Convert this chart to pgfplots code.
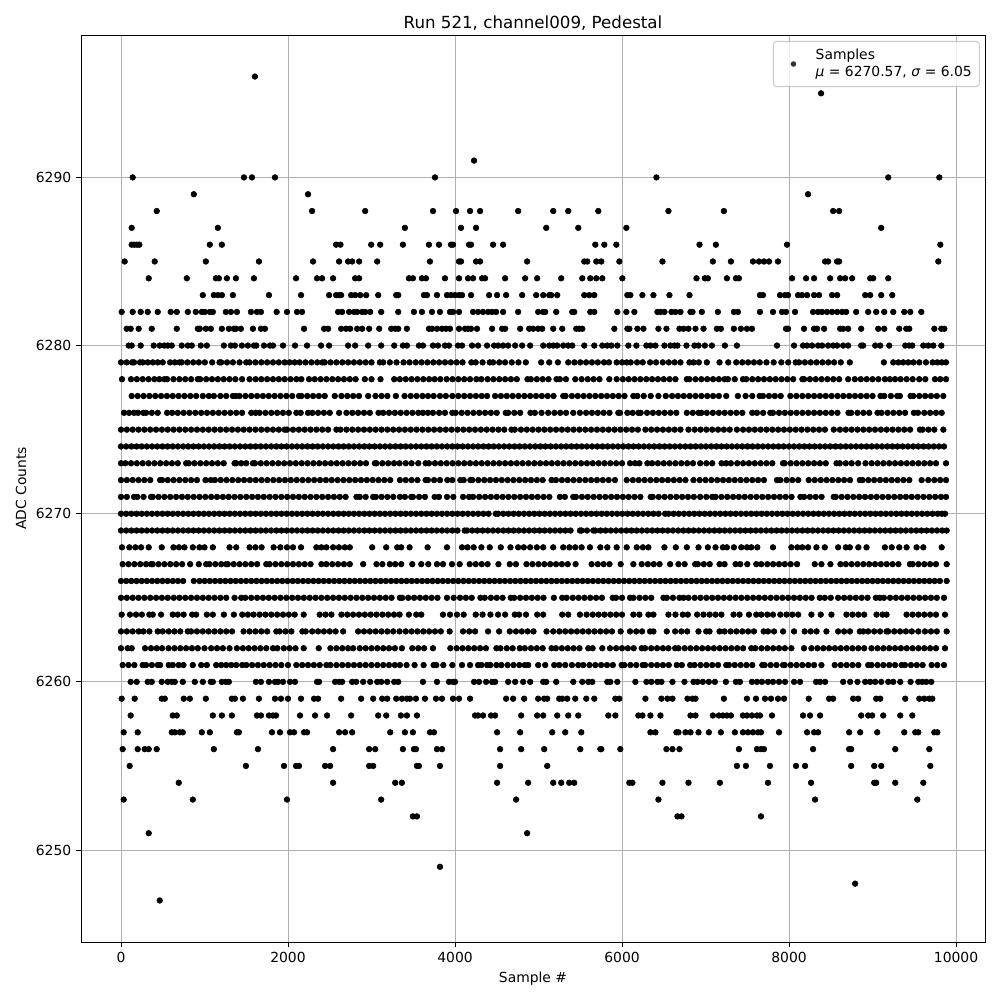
\documentclass[border=0pt]{standalone}
\usepackage{fontspec}
\setmainfont{DejaVu Sans}
\usepackage{pgfplots}
\pgfplotsset{compat=1.18}
\pgfplotstableread{
x y
1604 6296
8384 6295
4228 6291
140 6290
1472 6290
1568 6290
1844 6290
3760 6290
6412 6290
9188 6290
9800 6290
872 6289
2240 6289
8228 6289
428 6288
2288 6288
2924 6288
3736 6288
4012 6288
4180 6288
4300 6288
4756 6288
5176 6288
5356 6288
5716 6288
6556 6288
7220 6288
8528 6288
8600 6288
128 6287
1160 6287
3400 6287
4072 6287
4252 6287
5092 6287
5476 6287
6052 6287
9104 6287
128 6286
160 6286
192 6286
220 6286
1064 6286
1208 6286
2576 6286
2628 6286
2996 6286
3104 6286
3376 6286
3688 6286
3808 6286
3952 6286
3976 6286
4168 6286
4192 6286
4456 6286
4576 6286
5680 6286
5788 6286
5932 6286
6928 6286
7124 6286
7976 6286
9812 6286
44 6285
404 6285
1016 6285
1652 6285
2300 6285
2612 6285
2720 6285
2768 6285
2852 6285
3068 6285
3700 6285
4048 6285
4072 6285
4252 6285
4300 6285
4864 6285
5548 6285
5584 6285
5692 6285
5752 6285
5968 6285
6484 6285
7088 6285
7304 6285
7568 6285
7640 6285
7700 6285
7760 6285
7868 6285
8432 6285
8468 6285
8576 6285
8600 6285
9788 6285
332 6284
788 6284
1136 6284
1172 6284
1268 6284
1376 6284
1592 6284
2096 6284
2348 6284
2408 6284
2540 6284
2804 6284
2852 6284
3448 6284
3496 6284
3604 6284
3652 6284
3880 6284
4048 6284
4156 6284
4216 6284
4324 6284
4360 6284
4600 6284
4840 6284
4984 6284
5272 6284
5524 6284
5620 6284
5692 6284
5764 6284
6004 6284
6892 6284
6992 6284
7028 6284
7256 6284
7364 6284
7400 6284
8036 6284
8204 6284
8300 6284
8492 6284
8612 6284
8672 6284
8756 6284
8972 6284
9008 6284
9188 6284
980 6283
1112 6283
1160 6283
1208 6283
1340 6283
1772 6283
2156 6283
2492 6283
2576 6283
2612 6283
2636 6283
2756 6283
2804 6283
2864 6283
2936 6283
3080 6283
3296 6283
3320 6283
3628 6283
3664 6283
3784 6283
3904 6283
3952 6283
4000 6283
4048 6283
4084 6283
4192 6283
4408 6283
4504 6283
4612 6283
4804 6283
4972 6283
5056 6283
5128 6283
5152 6283
5224 6283
5548 6283
5608 6283
5668 6283
6064 6283
6100 6283
6244 6283
6376 6283
6568 6283
6808 6283
7652 6283
7688 6283
7892 6283
7952 6283
7988 6283
8108 6283
8156 6283
8216 6283
8300 6283
8360 6283
8516 6283
8576 6283
8912 6283
8972 6283
9104 6283
9236 6283
8 6282
140 6282
236 6282
320 6282
440 6282
596 6282
668 6282
800 6282
896 6282
968 6282
1004 6282
1064 6282
1100 6282
1256 6282
1316 6282
1388 6282
1556 6282
1628 6282
1676 6282
1864 6282
1988 6282
2108 6282
2168 6282
2600 6282
2648 6282
2732 6282
2792 6282
2828 6282
2888 6282
2924 6282
2984 6282
3116 6282
3320 6282
3508 6282
3604 6282
3724 6282
3820 6282
3940 6282
3976 6282
4048 6282
4216 6282
4276 6282
4336 6282
4396 6282
4444 6282
4492 6282
4576 6282
4756 6282
4996 6282
5056 6282
5080 6282
5212 6282
5404 6282
5428 6282
5620 6282
5668 6282
5944 6282
6052 6282
6148 6282
6424 6282
6460 6282
6508 6282
6592 6282
6640 6282
6700 6282
6820 6282
6844 6282
6956 6282
7148 6282
7340 6282
7388 6282
7652 6282
7808 6282
7916 6282
7964 6282
8072 6282
8288 6282
8348 6282
8396 6282
8456 6282
8516 6282
8576 6282
8636 6282
8684 6282
8804 6282
8948 6282
9044 6282
9140 6282
9248 6282
9380 6282
9452 6282
9584 6282
68 6281
116 6281
212 6281
368 6281
668 6281
920 6281
944 6281
1016 6281
1076 6281
1208 6281
1292 6281
1352 6281
1376 6281
1436 6281
1580 6281
1676 6281
1724 6281
2192 6281
2432 6281
2480 6281
2636 6281
2696 6281
2744 6281
2828 6281
2888 6281
2972 6281
3092 6281
3236 6281
3284 6281
3320 6281
3424 6281
3688 6281
3724 6281
3784 6281
3844 6281
3892 6281
3940 6281
4048 6281
4120 6281
4156 6281
4192 6281
4264 6281
4444 6281
4564 6281
4600 6281
4780 6281
4888 6281
4936 6281
4996 6281
5044 6281
5176 6281
5284 6281
5452 6281
5488 6281
5524 6281
5908 6281
6064 6281
6088 6281
6184 6281
6256 6281
6436 6281
6532 6281
6688 6281
6736 6281
6796 6281
6880 6281
6976 6281
7136 6281
7184 6281
7340 6281
7424 6281
7496 6281
7556 6281
7964 6281
7988 6281
8180 6281
8300 6281
8336 6281
8420 6281
8612 6281
8648 6281
8708 6281
8864 6281
9068 6281
9140 6281
9320 6281
9404 6281
9440 6281
9740 6281
9824 6281
9860 6281
92 6280
128 6280
236 6280
392 6280
464 6280
520 6280
560 6280
608 6280
728 6280
800 6280
848 6280
956 6280
1028 6280
1232 6280
1316 6280
1364 6280
1448 6280
1520 6280
1592 6280
1620 6280
1712 6280
1784 6280
1820 6280
1940 6280
2084 6280
2228 6280
2396 6280
2492 6280
2720 6280
2804 6280
2960 6280
3116 6280
3272 6280
3376 6280
3424 6280
3568 6280
3616 6280
3736 6280
3796 6280
3880 6280
3928 6280
4036 6280
4084 6280
4204 6280
4276 6280
4384 6280
4468 6280
4516 6280
4576 6280
4636 6280
4720 6280
4804 6280
4900 6280
5056 6280
5128 6280
5176 6280
5224 6280
5296 6280
5356 6280
5404 6280
5548 6280
5668 6280
5764 6280
5824 6280
5872 6280
5944 6280
6076 6280
6172 6280
6292 6280
6340 6280
6400 6280
6508 6280
6580 6280
6628 6280
6664 6280
6772 6280
6868 6280
6916 6280
6992 6280
7076 6280
7232 6280
7376 6280
7856 6280
8060 6280
8168 6280
8216 6280
8276 6280
8348 6280
8396 6280
8468 6280
8528 6280
8576 6280
8648 6280
8708 6280
8864 6280
8888 6280
9032 6280
9092 6280
9200 6280
9392 6280
9440 6280
9476 6280
9608 6280
9668 6280
9728 6280
9824 6280
}\sparsetop
\pgfplotstableread{
x y
116 6260
188 6260
320 6260
368 6260
488 6260
560 6260
608 6260
644 6260
740 6260
884 6260
980 6260
1076 6260
1100 6260
1208 6260
1256 6260
1292 6260
1616 6260
1676 6260
1772 6260
1844 6260
1880 6260
1940 6260
2024 6260
2084 6260
2348 6260
2372 6260
2564 6260
2612 6260
2648 6260
2768 6260
2816 6260
2900 6260
2984 6260
3068 6260
3116 6260
3188 6260
3272 6260
3320 6260
3616 6260
3784 6260
3928 6260
3976 6260
4000 6260
4228 6260
4288 6260
4372 6260
4444 6260
4480 6260
4636 6260
4720 6260
4816 6260
4900 6260
5056 6260
5092 6260
5212 6260
5416 6260
5524 6260
5596 6260
5644 6260
5824 6260
5860 6260
5944 6260
6160 6260
6292 6260
6352 6260
6424 6260
6472 6260
6604 6260
6748 6260
6856 6260
6904 6260
6968 6260
7040 6260
7112 6260
7244 6260
7364 6260
7412 6260
7556 6260
7616 6260
7676 6260
7748 6260
7808 6260
7880 6260
7952 6260
8060 6260
8132 6260
8324 6260
8372 6260
8432 6260
8648 6260
8732 6260
8820 6260
8912 6260
8972 6260
9032 6260
9104 6260
9188 6260
9248 6260
9332 6260
9456 6260
9548 6260
9596 6260
9644 6260
9704 6260
8 6259
164 6259
488 6259
524 6259
752 6259
824 6259
1016 6259
1328 6259
1364 6259
1460 6259
1652 6259
1844 6259
1916 6259
2000 6259
2156 6259
2312 6259
2360 6259
2636 6259
2876 6259
3020 6259
3128 6259
3188 6259
3296 6259
3364 6259
3424 6259
3460 6259
3532 6259
3640 6259
3772 6259
3844 6259
3976 6259
4048 6259
4180 6259
4612 6259
4696 6259
4828 6259
4996 6259
5068 6259
5104 6259
5248 6259
5284 6259
5344 6259
5440 6259
5572 6259
5668 6259
5920 6259
5968 6259
6280 6259
6472 6259
6544 6259
6604 6259
6784 6259
6844 6259
6880 6259
7220 6259
7496 6259
7604 6259
7712 6259
7784 6259
7868 6259
7940 6259
8236 6259
8480 6259
8528 6259
8768 6259
8828 6259
9044 6259
9092 6259
9392 6259
9560 6259
9620 6259
9680 6259
9716 6259
116 6258
620 6258
668 6258
1100 6258
1208 6258
1328 6258
1628 6258
1676 6258
1772 6258
1820 6258
1856 6258
2144 6258
2324 6258
2468 6258
2756 6258
3080 6258
3176 6258
3352 6258
3424 6258
3544 6258
4240 6258
4276 6258
4336 6258
4432 6258
4480 6258
4792 6258
4984 6258
5056 6258
5224 6258
5356 6258
5476 6258
5836 6258
5920 6258
6196 6258
6244 6258
6340 6258
6460 6258
6820 6258
6880 6258
7088 6258
7160 6258
7208 6258
7256 6258
7304 6258
7448 6258
7496 6258
7556 6258
7616 6258
7652 6258
7796 6258
8168 6258
8252 6258
8372 6258
8864 6258
8948 6258
8996 6258
9128 6258
9332 6258
9476 6258
32 6257
200 6257
608 6257
644 6257
704 6257
740 6257
968 6257
1064 6257
1388 6257
1412 6257
1808 6257
1904 6257
2024 6257
2072 6257
2192 6257
2228 6257
2612 6257
2684 6257
2768 6257
3224 6257
3400 6257
3496 6257
3700 6257
3748 6257
4504 6257
4780 6257
5164 6257
5320 6257
5512 6257
6340 6257
6400 6257
6652 6257
6676 6257
6760 6257
6820 6257
6916 6257
7040 6257
7184 6257
7352 6257
7448 6257
7508 6257
7568 6257
7628 6257
7664 6257
7880 6257
8216 6257
8300 6257
8348 6257
8720 6257
8852 6257
9056 6257
9380 6257
9512 6257
9548 6257
9740 6257
9776 6257
20 6256
200 6256
284 6256
332 6256
428 6256
1112 6256
1640 6256
2540 6256
2972 6256
3044 6256
3376 6256
3508 6256
3532 6256
3784 6256
3844 6256
4540 6256
4792 6256
5068 6256
5500 6256
5740 6256
5752 6256
5980 6256
6532 6256
6604 6256
6688 6256
7400 6256
7616 6256
7664 6256
7700 6256
8288 6256
8720 6256
8744 6256
9272 6256
9680 6256
104 6255
1496 6255
1952 6255
2096 6255
2132 6255
2444 6255
2504 6255
2972 6255
3020 6255
3544 6255
3568 6255
3820 6255
4540 6255
5104 6255
7376 6255
7484 6255
7772 6255
8084 6255
8192 6255
8744 6255
9020 6255
9104 6255
9692 6255
692 6254
2540 6254
3284 6254
3364 6254
4504 6254
4876 6254
5176 6254
5272 6254
5368 6254
5428 6254
6088 6254
6124 6254
6484 6254
6796 6254
7172 6254
7748 6254
8264 6254
9020 6254
9044 6254
9272 6254
9608 6254
32 6253
860 6253
1988 6253
3116 6253
4732 6253
6436 6253
8312 6253
9536 6253
3496 6252
3544 6252
6664 6252
6712 6252
7664 6252
332 6251
4864 6251
3820 6249
8792 6248
464 6247
}\sparsebot
\pgfplotstableread{
x y
0 6279
68 6279
132 6279
156 6279
228 6279
260 6279
320 6279
380 6279
440 6279
500 6279
588 6279
644 6279
700 6279
728 6279
796 6279
864 6279
932 6279
1004 6279
1092 6279
1180 6279
1200 6279
1270 6279
1340 6279
1420 6279
1500 6279
1540 6279
1610 6279
1680 6279
1750 6279
1820 6279
1890 6279
1960 6279
2020 6279
2080 6279
2140 6279
2210 6279
2280 6279
2350 6279
2412 6279
2440 6279
2510 6279
2580 6279
2650 6279
2720 6279
2790 6279
2860 6279
2930 6279
3000 6279
3100 6279
3140 6279
3220 6279
3300 6279
3384 6279
3456 6279
3530 6279
3600 6279
3670 6279
3740 6279
3810 6279
3880 6279
3950 6279
4020 6279
4090 6279
4196 6279
4248 6279
4330 6279
4416 6279
4456 6279
4530 6279
4600 6279
4680 6279
4760 6279
4848 6279
5032 6279
5128 6279
5232 6279
5356 6279
5430 6279
5500 6279
5570 6279
5640 6279
5710 6279
5784 6279
5844 6279
5936 6279
6000 6279
6056 6279
6104 6279
6180 6279
6248 6279
6336 6279
6408 6279
6488 6279
6560 6279
6630 6279
6700 6279
6808 6279
6856 6279
6920 6279
7016 6279
7168 6279
7272 6279
7368 6279
7440 6279
7510 6279
7580 6279
7650 6279
7730 6279
7816 6279
7908 6279
7990 6279
8080 6279
8120 6279
8190 6279
8260 6279
8330 6279
8400 6279
8470 6279
8540 6279
8620 6279
8728 6279
9136 6279
9248 6279
9310 6279
9368 6279
9428 6279
9490 6279
9560 6279
9640 6279
9720 6279
9776 6279
9830 6279
9880 6279
12 6278
120 6278
190 6278
260 6278
330 6278
400 6278
460 6278
520 6278
552 6278
628 6278
700 6278
770 6278
840 6278
920 6278
948 6278
1020 6278
1090 6278
1160 6278
1230 6278
1300 6278
1370 6278
1450 6278
1540 6278
1612 6278
1680 6278
1750 6278
1820 6278
1890 6278
1960 6278
2030 6278
2100 6278
2160 6278
2252 6278
2320 6278
2390 6278
2460 6278
2530 6278
2600 6278
2670 6278
2740 6278
2810 6278
2920 6278
3000 6278
3108 6278
3272 6278
3340 6278
3410 6278
3480 6278
3550 6278
3620 6278
3690 6278
3756 6278
3824 6278
3900 6278
3970 6278
4040 6278
4110 6278
4180 6278
4256 6278
4316 6278
4390 6278
4460 6278
4530 6278
4600 6278
4670 6278
4740 6278
4868 6278
4908 6278
4980 6278
5050 6278
5120 6278
5216 6278
5256 6278
5328 6278
5440 6278
5516 6278
5590 6278
5660 6278
5730 6278
5848 6278
5936 6278
6010 6278
6080 6278
6150 6278
6220 6278
6290 6278
6360 6278
6430 6278
6500 6278
6570 6278
6640 6278
6776 6278
6808 6278
6880 6278
6950 6278
7020 6278
7090 6278
7160 6278
7228 6278
7268 6278
7350 6278
7448 6278
7488 6278
7560 6278
7630 6278
7700 6278
7770 6278
7840 6278
7910 6278
7980 6278
8050 6278
8160 6278
8180 6278
8250 6278
8320 6278
8390 6278
8460 6278
8530 6278
8600 6278
8708 6278
8788 6278
8860 6278
8930 6278
9000 6278
9070 6278
9148 6278
9208 6278
9270 6278
9336 6278
9408 6278
9480 6278
9560 6278
9632 6278
9748 6278
9810 6278
9880 6278
128 6277
200 6277
270 6277
340 6277
410 6277
480 6277
550 6277
620 6277
690 6277
760 6277
830 6277
900 6277
980 6277
1052 6277
1112 6277
1190 6277
1260 6277
1340 6277
1376 6277
1420 6277
1490 6277
1560 6277
1630 6277
1700 6277
1770 6277
1840 6277
1910 6277
1980 6277
2050 6277
2132 6277
2160 6277
2230 6277
2300 6277
2370 6277
2440 6277
2560 6277
2640 6277
2710 6277
2780 6277
2850 6277
2960 6277
3048 6277
3120 6277
3190 6277
3292 6277
3396 6277
3470 6277
3540 6277
3610 6277
3676 6277
3744 6277
3820 6277
3890 6277
3968 6277
4040 6277
4110 6277
4180 6277
4250 6277
4320 6277
4384 6277
4480 6277
4550 6277
4620 6277
4690 6277
4760 6277
4830 6277
4900 6277
4970 6277
5040 6277
5110 6277
5180 6277
5296 6277
5324 6277
5400 6277
5470 6277
5540 6277
5610 6277
5680 6277
5750 6277
5820 6277
5890 6277
5960 6277
6030 6277
6136 6277
6184 6277
6260 6277
6344 6277
6436 6277
6524 6277
6600 6277
6670 6277
6740 6277
6810 6277
6880 6277
6950 6277
7020 6277
7090 6277
7160 6277
7248 6277
7388 6277
7480 6277
7560 6277
7648 6277
7688 6277
7760 6277
7830 6277
7900 6277
8016 6277
8088 6277
8160 6277
8230 6277
8300 6277
8370 6277
8440 6277
8510 6277
8580 6277
8650 6277
8720 6277
8790 6277
8860 6277
8930 6277
9000 6277
9096 6277
9140 6277
9220 6277
9296 6277
9328 6277
9456 6277
9488 6277
9560 6277
9630 6277
9700 6277
9770 6277
9848 6277
36 6276
96 6276
156 6276
204 6276
268 6276
300 6276
370 6276
440 6276
552 6276
612 6276
680 6276
750 6276
820 6276
890 6276
960 6276
1030 6276
1100 6276
1170 6276
1240 6276
1310 6276
1380 6276
1450 6276
1560 6276
1612 6276
1660 6276
1730 6276
1800 6276
1870 6276
1940 6276
2010 6276
2100 6276
2152 6276
2240 6276
2292 6276
2360 6276
2430 6276
2500 6276
2612 6276
2700 6276
2770 6276
2840 6276
2910 6276
2980 6276
3084 6276
3140 6276
3210 6276
3280 6276
3350 6276
3420 6276
3490 6276
3560 6276
3616 6276
3676 6276
3736 6276
3810 6276
3880 6276
3968 6276
4008 6276
4080 6276
4150 6276
4220 6276
4290 6276
4360 6276
4430 6276
4500 6276
4608 6276
4636 6276
4710 6276
4780 6276
4904 6276
4956 6276
5036 6276
5116 6276
5190 6276
5260 6276
5330 6276
5416 6276
5496 6276
5570 6276
5640 6276
5710 6276
5780 6276
5850 6276
5956 6276
5976 6276
6064 6276
6128 6276
6196 6276
6224 6276
6300 6276
6370 6276
6440 6276
6510 6276
6580 6276
6650 6276
6776 6276
6848 6276
6916 6276
6950 6276
7016 6276
7088 6276
7160 6276
7230 6276
7300 6276
7370 6276
7440 6276
7560 6276
7616 6276
7690 6276
7776 6276
7808 6276
7880 6276
7950 6276
8020 6276
8090 6276
8160 6276
8230 6276
8300 6276
8370 6276
8440 6276
8510 6276
8580 6276
8712 6276
8744 6276
8820 6276
8890 6276
8960 6276
9060 6276
9108 6276
9180 6276
9250 6276
9320 6276
9390 6276
9496 6276
9544 6276
9620 6276
9690 6276
9760 6276
9828 6276
0 6275
70 6275
140 6275
210 6275
280 6275
350 6275
420 6275
490 6275
560 6275
630 6275
700 6275
770 6275
840 6275
910 6275
980 6275
1050 6275
1120 6275
1190 6275
1260 6275
1330 6275
1400 6275
1470 6275
1540 6275
1610 6275
1680 6275
1750 6275
1820 6275
1890 6275
1960 6275
1988 6275
2060 6275
2130 6275
2200 6275
2270 6275
2340 6275
2410 6275
2480 6275
2580 6275
2628 6275
2700 6275
2770 6275
2840 6275
2910 6275
2980 6275
3050 6275
3120 6275
3190 6275
3260 6275
3330 6275
3400 6275
3470 6275
3540 6275
3610 6275
3680 6275
3750 6275
3820 6275
3890 6275
3960 6275
4030 6275
4100 6275
4170 6275
4240 6275
4310 6275
4380 6275
4450 6275
4520 6275
4590 6275
4676 6275
4716 6275
4790 6275
4860 6275
4930 6275
5000 6275
5070 6275
5140 6275
5210 6275
5280 6275
5350 6275
5420 6275
5490 6275
5560 6275
5630 6275
5700 6275
5770 6275
5840 6275
5910 6275
5980 6275
6050 6275
6120 6275
6190 6275
6280 6275
6350 6275
6420 6275
6490 6275
6560 6275
6630 6275
6700 6275
6796 6275
6870 6275
6940 6275
7010 6275
7080 6275
7150 6275
7220 6275
7290 6275
7376 6275
7450 6275
7520 6275
7590 6275
7660 6275
7730 6275
7800 6275
7870 6275
7940 6275
8010 6275
8080 6275
8150 6275
8220 6275
8290 6275
8360 6275
8430 6275
8536 6275
8610 6275
8680 6275
8750 6275
8820 6275
8890 6275
8960 6275
9030 6275
9100 6275
9170 6275
9240 6275
9310 6275
9380 6275
9450 6275
9568 6275
9600 6275
9670 6275
9740 6275
9848 6275
}\denseA
\pgfplotstableread{
x y
0 6274
62 6274
124 6274
186 6274
248 6274
310 6274
372 6274
434 6274
496 6274
558 6274
620 6274
682 6274
744 6274
806 6274
868 6274
930 6274
992 6274
1054 6274
1116 6274
1178 6274
1240 6274
1302 6274
1364 6274
1426 6274
1488 6274
1550 6274
1612 6274
1674 6274
1736 6274
1798 6274
1860 6274
1922 6274
1984 6274
2046 6274
2108 6274
2170 6274
2232 6274
2294 6274
2356 6274
2418 6274
2480 6274
2542 6274
2604 6274
2666 6274
2728 6274
2790 6274
2852 6274
2914 6274
2976 6274
3038 6274
3100 6274
3162 6274
3224 6274
3286 6274
3348 6274
3410 6274
3472 6274
3534 6274
3596 6274
3658 6274
3720 6274
3782 6274
3844 6274
3906 6274
3968 6274
4030 6274
4092 6274
4154 6274
4216 6274
4278 6274
4340 6274
4402 6274
4464 6274
4526 6274
4588 6274
4650 6274
4712 6274
4774 6274
4836 6274
4898 6274
4960 6274
5022 6274
5084 6274
5146 6274
5208 6274
5270 6274
5332 6274
5394 6274
5456 6274
5518 6274
5580 6274
5642 6274
5704 6274
5766 6274
5828 6274
5890 6274
5952 6274
6014 6274
6076 6274
6138 6274
6200 6274
6262 6274
6324 6274
6386 6274
6448 6274
6510 6274
6572 6274
6634 6274
6696 6274
6758 6274
6820 6274
6882 6274
6944 6274
7006 6274
7068 6274
7130 6274
7192 6274
7254 6274
7316 6274
7378 6274
7440 6274
7502 6274
7564 6274
7626 6274
7688 6274
7750 6274
7812 6274
7874 6274
7936 6274
7998 6274
8060 6274
8122 6274
8184 6274
8246 6274
8308 6274
8370 6274
8432 6274
8494 6274
8556 6274
8618 6274
8680 6274
8742 6274
8804 6274
8866 6274
8928 6274
8990 6274
9052 6274
9114 6274
9176 6274
9238 6274
9300 6274
9362 6274
9424 6274
9486 6274
9548 6274
9610 6274
9672 6274
9734 6274
9796 6274
9856 6274
0 6273
52 6273
120 6273
190 6273
260 6273
330 6273
400 6273
470 6273
540 6273
610 6273
680 6273
780 6273
812 6273
880 6273
950 6273
1020 6273
1090 6273
1160 6273
1230 6273
1360 6273
1380 6273
1440 6273
1500 6273
1580 6273
1604 6273
1674 6273
1744 6273
1814 6273
1884 6273
1954 6273
2024 6273
2094 6273
2164 6273
2234 6273
2304 6273
2374 6273
2444 6273
2514 6273
2584 6273
2654 6273
2724 6273
2794 6273
2864 6273
2934 6273
3040 6273
3060 6273
3130 6273
3200 6273
3270 6273
3336 6273
3410 6273
3480 6273
3560 6273
3648 6273
3688 6273
3760 6273
3830 6273
3900 6273
3970 6273
4040 6273
4110 6273
4180 6273
4250 6273
4320 6273
4390 6273
4460 6273
4530 6273
4600 6273
4670 6273
4740 6273
4810 6273
4880 6273
4950 6273
5020 6273
5090 6273
5160 6273
5230 6273
5300 6273
5370 6273
5440 6273
5510 6273
5580 6273
5650 6273
5720 6273
5790 6273
5860 6273
5930 6273
6000 6273
6096 6273
6156 6273
6208 6273
6304 6273
6360 6273
6430 6273
6500 6273
6570 6273
6640 6273
6710 6273
6780 6273
6850 6273
6936 6273
7010 6273
7080 6273
7192 6273
7248 6273
7304 6273
7380 6273
7450 6273
7520 6273
7590 6273
7660 6273
7730 6273
7800 6273
7928 6273
7948 6273
8020 6273
8090 6273
8160 6273
8230 6273
8300 6273
8370 6273
8440 6273
8568 6273
8608 6273
8680 6273
8750 6273
8828 6273
8916 6273
8990 6273
9060 6273
9130 6273
9200 6273
9270 6273
9340 6273
9410 6273
9480 6273
9550 6273
9620 6273
9690 6273
9760 6273
9880 6273
0 6272
70 6272
140 6272
210 6272
280 6272
350 6272
468 6272
492 6272
560 6272
630 6272
700 6272
770 6272
840 6272
910 6272
1012 6272
1076 6272
1124 6272
1194 6272
1264 6272
1334 6272
1404 6272
1474 6272
1544 6272
1614 6272
1684 6272
1754 6272
1824 6272
1894 6272
1964 6272
2034 6272
2104 6272
2174 6272
2244 6272
2314 6272
2384 6272
2454 6272
2524 6272
2594 6272
2664 6272
2734 6272
2804 6272
2874 6272
2944 6272
3014 6272
3084 6272
3154 6272
3224 6272
3340 6272
3410 6272
3480 6272
3550 6272
3648 6272
3676 6272
3750 6272
3820 6272
3908 6272
3968 6272
4064 6272
4104 6272
4184 6272
4208 6272
4280 6272
4350 6272
4420 6272
4490 6272
4560 6272
4630 6272
4700 6272
4770 6272
4840 6272
4910 6272
4980 6272
5050 6272
5156 6272
5208 6272
5280 6272
5350 6272
5420 6272
5490 6272
5560 6272
5630 6272
5700 6272
5770 6272
5840 6272
5916 6272
6056 6272
6130 6272
6200 6272
6270 6272
6340 6272
6410 6272
6480 6272
6550 6272
6620 6272
6690 6272
6760 6272
6856 6272
6930 6272
7000 6272
7070 6272
7140 6272
7210 6272
7280 6272
7350 6272
7420 6272
7490 6272
7560 6272
7630 6272
7700 6272
7856 6272
7896 6272
7970 6272
8040 6272
8110 6272
8236 6272
8308 6272
8380 6272
8450 6272
8520 6272
8590 6272
8660 6272
8730 6272
8848 6272
8880 6272
8950 6272
9020 6272
9090 6272
9160 6272
9230 6272
9300 6272
9370 6272
9440 6272
9588 6272
9668 6272
9740 6272
9810 6272
9880 6272
0 6271
70 6271
156 6271
196 6271
270 6271
360 6271
380 6271
450 6271
520 6271
590 6271
660 6271
730 6271
800 6271
870 6271
940 6271
1010 6271
1080 6271
1150 6271
1220 6271
1290 6271
1360 6271
1430 6271
1500 6271
1570 6271
1640 6271
1710 6271
1780 6271
1850 6271
1920 6271
1990 6271
2060 6271
2130 6271
2200 6271
2270 6271
2340 6271
2410 6271
2480 6271
2550 6271
2620 6271
2690 6271
2820 6271
2860 6271
2930 6271
3020 6271
3052 6271
3120 6271
3190 6271
3260 6271
3340 6271
3400 6271
3476 6271
3496 6271
3570 6271
3640 6271
3756 6271
3808 6271
3904 6271
3980 6271
4096 6271
4168 6271
4216 6271
4290 6271
4360 6271
4430 6271
4500 6271
4570 6271
4640 6271
4710 6271
4780 6271
4850 6271
4920 6271
4990 6271
5060 6271
5130 6271
5256 6271
5316 6271
5416 6271
5448 6271
5520 6271
5590 6271
5660 6271
5730 6271
5800 6271
5870 6271
5940 6271
6010 6271
6080 6271
6150 6271
6220 6271
6344 6271
6368 6271
6440 6271
6510 6271
6580 6271
6650 6271
6720 6271
6790 6271
6860 6271
6936 6271
7010 6271
7080 6271
7120 6271
7190 6271
7260 6271
7330 6271
7400 6271
7470 6271
7540 6271
7610 6271
7680 6271
7750 6271
7820 6271
7890 6271
7960 6271
8030 6271
8136 6271
8180 6271
8250 6271
8320 6271
8390 6271
8536 6271
8560 6271
8630 6271
8700 6271
8770 6271
8840 6271
8910 6271
8980 6271
9050 6271
9120 6271
9190 6271
9260 6271
9330 6271
9400 6271
9470 6271
9540 6271
9610 6271
9680 6271
9750 6271
9820 6271
9880 6271
}\denseB
\pgfplotstableread{
x y
0 6270
62 6270
124 6270
186 6270
248 6270
310 6270
372 6270
434 6270
496 6270
558 6270
620 6270
682 6270
744 6270
806 6270
868 6270
930 6270
992 6270
1054 6270
1116 6270
1178 6270
1240 6270
1302 6270
1364 6270
1426 6270
1488 6270
1550 6270
1612 6270
1674 6270
1736 6270
1798 6270
1860 6270
1922 6270
1984 6270
2046 6270
2108 6270
2170 6270
2232 6270
2294 6270
2356 6270
2418 6270
2480 6270
2542 6270
2604 6270
2666 6270
2728 6270
2790 6270
2852 6270
2914 6270
2976 6270
3038 6270
3100 6270
3162 6270
3224 6270
3286 6270
3348 6270
3410 6270
3472 6270
3534 6270
3596 6270
3658 6270
3720 6270
3782 6270
3844 6270
3906 6270
3968 6270
4030 6270
4092 6270
4154 6270
4216 6270
4278 6270
4340 6270
4402 6270
4488 6270
4516 6270
4578 6270
4640 6270
4702 6270
4764 6270
4826 6270
4888 6270
4950 6270
5012 6270
5074 6270
5136 6270
5198 6270
5260 6270
5322 6270
5384 6270
5446 6270
5508 6270
5570 6270
5632 6270
5694 6270
5756 6270
5818 6270
5880 6270
5942 6270
6004 6270
6066 6270
6128 6270
6190 6270
6252 6270
6314 6270
6376 6270
6438 6270
6516 6270
6556 6270
6618 6270
6680 6270
6742 6270
6804 6270
6866 6270
6928 6270
6990 6270
7052 6270
7114 6270
7176 6270
7238 6270
7300 6270
7362 6270
7424 6270
7486 6270
7548 6270
7610 6270
7672 6270
7734 6270
7796 6270
7858 6270
7920 6270
7982 6270
8044 6270
8106 6270
8168 6270
8230 6270
8292 6270
8354 6270
8416 6270
8478 6270
8540 6270
8602 6270
8664 6270
8726 6270
8788 6270
8850 6270
8912 6270
8974 6270
9036 6270
9098 6270
9160 6270
9222 6270
9284 6270
9346 6270
9408 6270
9470 6270
9532 6270
9594 6270
9656 6270
9718 6270
9780 6270
9830 6270
9868 6270
0 6269
62 6269
124 6269
186 6269
248 6269
310 6269
372 6269
434 6269
496 6269
558 6269
620 6269
682 6269
744 6269
806 6269
868 6269
930 6269
992 6269
1054 6269
1116 6269
1178 6269
1240 6269
1302 6269
1364 6269
1426 6269
1488 6269
1550 6269
1612 6269
1674 6269
1736 6269
1798 6269
1860 6269
1922 6269
1984 6269
2046 6269
2108 6269
2170 6269
2232 6269
2294 6269
2356 6269
2418 6269
2480 6269
2542 6269
2604 6269
2666 6269
2728 6269
2790 6269
2852 6269
2914 6269
2976 6269
3038 6269
3100 6269
3162 6269
3224 6269
3286 6269
3348 6269
3410 6269
3472 6269
3534 6269
3596 6269
3658 6269
3720 6269
3782 6269
3844 6269
3906 6269
3968 6269
4030 6269
4116 6269
4144 6269
4206 6269
4268 6269
4330 6269
4392 6269
4454 6269
4516 6269
4578 6269
4640 6269
4702 6269
4764 6269
4826 6269
4888 6269
4950 6269
5012 6269
5074 6269
5136 6269
5198 6269
5260 6269
5322 6269
5384 6269
5496 6269
5516 6269
5580 6269
5656 6269
5680 6269
5742 6269
5804 6269
5866 6269
5928 6269
5990 6269
6052 6269
6114 6269
6176 6269
6238 6269
6300 6269
6362 6269
6424 6269
6486 6269
6548 6269
6610 6269
6672 6269
6734 6269
6796 6269
6858 6269
6920 6269
6982 6269
7044 6269
7106 6269
7168 6269
7230 6269
7292 6269
7354 6269
7416 6269
7478 6269
7540 6269
7602 6269
7664 6269
7726 6269
7788 6269
7850 6269
7912 6269
7974 6269
8036 6269
8098 6269
8160 6269
8222 6269
8284 6269
8346 6269
8408 6269
8470 6269
8532 6269
8594 6269
8656 6269
8718 6269
8780 6269
8842 6269
8904 6269
8966 6269
9028 6269
9090 6269
9152 6269
9214 6269
9276 6269
9338 6269
9400 6269
9462 6269
9524 6269
9586 6269
9648 6269
9710 6269
9772 6269
9834 6269
9888 6269
12 6268
100 6268
172 6268
240 6268
332 6268
488 6268
628 6268
694 6268
760 6268
860 6268
940 6268
1000 6268
1100 6268
1300 6268
1380 6268
1540 6268
1610 6268
1684 6268
1828 6268
1908 6268
1988 6268
2060 6268
2156 6268
2340 6268
2400 6268
2460 6268
2540 6268
2610 6268
2680 6268
2740 6268
3008 6268
3176 6268
3308 6268
3356 6268
3456 6268
3672 6268
3904 6268
4084 6268
4150 6268
4224 6268
4316 6268
4416 6268
4548 6268
4664 6268
4756 6268
4824 6268
4900 6268
4980 6268
5056 6268
5176 6268
5296 6268
5370 6268
5440 6268
5516 6268
5616 6268
5740 6268
5824 6268
5936 6268
6056 6268
6176 6268
6250 6268
6316 6268
6508 6268
6644 6268
6776 6268
6916 6268
7028 6268
7120 6268
7208 6268
7256 6268
7340 6268
7428 6268
7496 6268
7548 6268
7620 6268
7808 6268
8028 6268
8100 6268
8160 6268
8228 6268
8328 6268
8428 6268
8588 6268
8680 6268
8728 6268
8830 6268
8928 6268
9148 6268
9230 6268
9320 6268
9408 6268
9528 6268
9608 6268
9828 6268
20 6267
90 6267
160 6267
230 6267
300 6267
360 6267
380 6267
450 6267
520 6267
590 6267
660 6267
732 6267
828 6267
932 6267
1020 6267
1060 6267
1130 6267
1200 6267
1260 6267
1280 6267
1350 6267
1420 6267
1490 6267
1560 6267
1630 6267
1740 6267
1780 6267
1850 6267
1920 6267
1990 6267
2060 6267
2130 6267
2200 6267
2270 6267
2400 6267
2460 6267
2530 6267
2600 6267
2670 6267
2740 6267
2900 6267
3060 6267
3130 6267
3220 6267
3284 6267
3356 6267
3488 6267
3596 6267
3680 6267
3784 6267
3856 6267
3964 6267
4056 6267
4176 6267
4248 6267
4320 6267
4390 6267
4520 6267
4656 6267
4730 6267
4856 6267
4928 6267
5000 6267
5070 6267
5140 6267
5210 6267
5280 6267
5350 6267
5444 6267
5636 6267
5710 6267
5780 6267
5850 6267
5984 6267
6136 6267
6236 6267
6310 6267
6380 6267
6450 6267
6576 6267
6676 6267
6750 6267
6876 6267
6908 6267
6980 6267
7050 6267
7168 6267
7228 6267
7360 6267
7416 6267
7500 6267
7608 6267
7668 6267
7740 6267
7810 6267
7880 6267
7950 6267
8020 6267
8096 6267
8308 6267
8388 6267
8496 6267
8616 6267
8680 6267
8750 6267
8820 6267
8890 6267
8960 6267
9030 6267
9100 6267
9170 6267
9240 6267
9310 6267
9448 6267
9480 6267
9550 6267
9620 6267
9690 6267
9760 6267
9888 6267
}\denseC
\pgfplotstableread{
x y
0 6266
62 6266
124 6266
186 6266
248 6266
310 6266
372 6266
434 6266
496 6266
558 6266
620 6266
682 6266
744 6266
872 6266
940 6266
1002 6266
1064 6266
1126 6266
1188 6266
1250 6266
1312 6266
1374 6266
1436 6266
1498 6266
1560 6266
1622 6266
1684 6266
1746 6266
1808 6266
1870 6266
1932 6266
1994 6266
2056 6266
2118 6266
2180 6266
2242 6266
2304 6266
2366 6266
2428 6266
2490 6266
2552 6266
2614 6266
2676 6266
2738 6266
2800 6266
2862 6266
2924 6266
2986 6266
3048 6266
3110 6266
3172 6266
3234 6266
3296 6266
3358 6266
3420 6266
3482 6266
3544 6266
3606 6266
3668 6266
3730 6266
3792 6266
3854 6266
3916 6266
3978 6266
4040 6266
4102 6266
4164 6266
4226 6266
4288 6266
4350 6266
4412 6266
4474 6266
4536 6266
4598 6266
4660 6266
4722 6266
4784 6266
4846 6266
4908 6266
4970 6266
5032 6266
5094 6266
5156 6266
5218 6266
5280 6266
5342 6266
5404 6266
5466 6266
5528 6266
5590 6266
5652 6266
5714 6266
5776 6266
5838 6266
5900 6266
5962 6266
6024 6266
6086 6266
6148 6266
6210 6266
6272 6266
6334 6266
6396 6266
6458 6266
6520 6266
6582 6266
6644 6266
6706 6266
6768 6266
6830 6266
6892 6266
6954 6266
7016 6266
7078 6266
7140 6266
7202 6266
7264 6266
7326 6266
7388 6266
7450 6266
7512 6266
7574 6266
7636 6266
7698 6266
7760 6266
7822 6266
7884 6266
7946 6266
8008 6266
8070 6266
8132 6266
8194 6266
8256 6266
8318 6266
8380 6266
8442 6266
8504 6266
8566 6266
8628 6266
8690 6266
8752 6266
8814 6266
8876 6266
8938 6266
9000 6266
9062 6266
9124 6266
9186 6266
9248 6266
9310 6266
9372 6266
9434 6266
9496 6266
9558 6266
9620 6266
9682 6266
9744 6266
9806 6266
9888 6266
0 6265
70 6265
140 6265
210 6265
280 6265
350 6265
420 6265
490 6265
560 6265
632 6265
700 6265
770 6265
840 6265
910 6265
980 6265
1050 6265
1120 6265
1190 6265
1260 6265
1360 6265
1440 6265
1488 6265
1560 6265
1630 6265
1700 6265
1770 6265
1840 6265
1910 6265
1980 6265
2050 6265
2120 6265
2190 6265
2260 6265
2330 6265
2400 6265
2470 6265
2540 6265
2610 6265
2680 6265
2750 6265
2820 6265
2890 6265
2960 6265
3030 6265
3100 6265
3170 6265
3240 6265
3340 6265
3368 6265
3440 6265
3510 6265
3580 6265
3650 6265
3720 6265
3790 6265
3904 6265
3984 6265
4060 6265
4130 6265
4200 6265
4304 6265
4356 6265
4430 6265
4500 6265
4570 6265
4668 6265
4708 6265
4780 6265
4850 6265
4920 6265
4990 6265
5060 6265
5184 6265
5284 6265
5336 6265
5410 6265
5480 6265
5550 6265
5620 6265
5690 6265
5760 6265
5888 6265
5928 6265
6000 6265
6096 6265
6136 6265
6210 6265
6280 6265
6350 6265
6496 6265
6536 6265
6610 6265
6688 6265
6736 6265
6796 6265
6870 6265
6940 6265
7010 6265
7080 6265
7150 6265
7220 6265
7290 6265
7360 6265
7430 6265
7500 6265
7570 6265
7640 6265
7710 6265
7780 6265
7850 6265
7920 6265
7990 6265
8060 6265
8130 6265
8200 6265
8270 6265
8368 6265
8428 6265
8500 6265
8588 6265
8660 6265
8730 6265
8800 6265
8870 6265
8940 6265
9040 6265
9088 6265
9136 6265
9210 6265
9280 6265
9350 6265
9420 6265
9490 6265
9560 6265
9630 6265
9700 6265
9770 6265
9856 6265
8 6264
108 6264
180 6264
250 6264
340 6264
380 6264
480 6264
620 6264
680 6264
750 6264
852 6264
900 6264
1028 6264
1100 6264
1232 6264
1352 6264
1452 6264
1520 6264
1588 6264
1660 6264
1730 6264
1800 6264
1870 6264
1940 6264
2010 6264
2080 6264
2188 6264
2380 6264
2450 6264
2520 6264
2640 6264
2710 6264
2780 6264
2850 6264
2920 6264
2990 6264
3060 6264
3130 6264
3200 6264
3270 6264
3336 6264
3448 6264
3536 6264
3596 6264
3856 6264
3940 6264
4024 6264
4104 6264
4248 6264
4330 6264
4424 6264
4516 6264
4600 6264
4716 6264
4768 6264
4850 6264
4984 6264
5056 6264
5284 6264
5356 6264
5496 6264
5576 6264
5650 6264
5720 6264
5790 6264
5860 6264
5930 6264
6000 6264
6136 6264
6208 6264
6316 6264
6376 6264
6556 6264
6640 6264
6728 6264
6788 6264
6900 6264
6976 6264
7050 6264
7120 6264
7190 6264
7336 6264
7408 6264
7520 6264
7608 6264
7668 6264
7740 6264
7808 6264
7896 6264
7970 6264
8040 6264
8110 6264
8268 6264
8380 6264
8508 6264
8688 6264
8760 6264
8830 6264
8900 6264
9048 6264
9120 6264
9168 6264
9408 6264
9480 6264
9550 6264
9620 6264
9690 6264
9760 6264
9868 6264
0 6263
70 6263
140 6263
212 6263
268 6263
340 6263
440 6263
500 6263
572 6263
640 6263
710 6263
800 6263
840 6263
910 6263
980 6263
1050 6263
1120 6263
1190 6263
1260 6263
1330 6263
1468 6263
1540 6263
1610 6263
1680 6263
1750 6263
1860 6263
1900 6263
1970 6263
2040 6263
2172 6263
2212 6263
2290 6263
2360 6263
2430 6263
2500 6263
2570 6263
2660 6263
2840 6263
2910 6263
2980 6263
3050 6263
3120 6263
3190 6263
3260 6263
3336 6263
3410 6263
3480 6263
3550 6263
3620 6263
3690 6263
3760 6263
3830 6263
3936 6263
4096 6263
4170 6263
4240 6263
4396 6263
4528 6263
4656 6263
4730 6263
4800 6263
4870 6263
4940 6263
5096 6263
5176 6263
5250 6263
5320 6263
5390 6263
5460 6263
5530 6263
5600 6263
5670 6263
5740 6263
5810 6263
5880 6263
5984 6263
6096 6263
6170 6263
6240 6263
6336 6263
6376 6263
6536 6263
6636 6263
6710 6263
6780 6263
6916 6263
7008 6263
7048 6263
7168 6263
7228 6263
7300 6263
7370 6263
7440 6263
7510 6263
7580 6263
7696 6263
7748 6263
7820 6263
7928 6263
8060 6263
8188 6263
8260 6263
8330 6263
8448 6263
8588 6263
8660 6263
8730 6263
8848 6263
8888 6263
8948 6263
9020 6263
9090 6263
9168 6263
9188 6263
9260 6263
9330 6263
9400 6263
9470 6263
9548 6263
9628 6263
9700 6263
9770 6263
9888 6263
}\denseD
\pgfplotstableread{
x y
0 6262
80 6262
128 6262
288 6262
360 6262
428 6262
492 6262
570 6262
640 6262
710 6262
780 6262
850 6262
920 6262
1000 6262
1080 6262
1150 6262
1220 6262
1300 6262
1388 6262
1460 6262
1530 6262
1600 6262
1670 6262
1740 6262
1820 6262
1872 6262
1950 6262
2020 6262
2090 6262
2188 6262
2368 6262
2508 6262
2580 6262
2650 6262
2720 6262
2780 6262
2860 6262
2930 6262
3000 6262
3070 6262
3140 6262
3210 6262
3280 6262
3364 6262
3488 6262
3560 6262
3630 6262
3736 6262
3944 6262
4020 6262
4090 6262
4160 6262
4230 6262
4300 6262
4370 6262
4496 6262
4544 6262
4620 6262
4690 6262
4776 6262
4836 6262
4910 6262
4980 6262
5050 6262
5156 6262
5208 6262
5280 6262
5350 6262
5420 6262
5490 6262
5596 6262
5648 6262
5764 6262
5856 6262
5930 6262
6000 6262
6070 6262
6140 6262
6236 6262
6276 6262
6350 6262
6420 6262
6490 6262
6556 6262
6636 6262
6676 6262
6750 6262
6820 6262
6890 6262
6960 6262
7030 6262
7100 6262
7170 6262
7240 6262
7310 6262
7380 6262
7450 6262
7548 6262
7596 6262
7670 6262
7740 6262
7810 6262
7880 6262
7950 6262
8028 6262
8180 6262
8268 6262
8340 6262
8410 6262
8480 6262
8550 6262
8620 6262
8690 6262
8760 6262
8830 6262
8900 6262
8988 6262
9060 6262
9130 6262
9200 6262
9270 6262
9340 6262
9410 6262
9480 6262
9550 6262
9620 6262
9690 6262
9760 6262
9868 6262
20 6261
90 6261
160 6261
260 6261
300 6261
370 6261
440 6261
468 6261
572 6261
620 6261
690 6261
748 6261
860 6261
960 6261
1028 6261
1140 6261
1200 6261
1260 6261
1320 6261
1380 6261
1452 6261
1500 6261
1570 6261
1640 6261
1710 6261
1780 6261
1850 6261
1920 6261
2000 6261
2100 6261
2170 6261
2240 6261
2310 6261
2380 6261
2460 6261
2508 6261
2580 6261
2650 6261
2720 6261
2790 6261
2860 6261
2930 6261
3000 6261
3070 6261
3140 6261
3210 6261
3280 6261
3340 6261
3420 6261
3516 6261
3624 6261
3744 6261
3776 6261
3860 6261
3968 6261
4084 6261
4180 6261
4276 6261
4316 6261
4384 6261
4424 6261
4496 6261
4556 6261
4630 6261
4700 6261
4770 6261
4836 6261
4876 6261
4996 6261
5080 6261
5188 6261
5248 6261
5320 6261
5400 6261
5476 6261
5536 6261
5610 6261
5680 6261
5750 6261
5820 6261
5890 6261
5996 6261
6028 6261
6100 6261
6170 6261
6248 6261
6276 6261
6350 6261
6420 6261
6490 6261
6560 6261
6656 6261
6716 6261
6816 6261
6868 6261
6940 6261
7010 6261
7080 6261
7150 6261
7248 6261
7280 6261
7350 6261
7420 6261
7490 6261
7560 6261
7680 6261
7708 6261
7780 6261
7850 6261
7928 6261
7948 6261
8020 6261
8090 6261
8160 6261
8230 6261
8300 6261
8388 6261
8548 6261
8620 6261
8690 6261
8760 6261
8830 6261
8948 6261
8988 6261
9060 6261
9130 6261
9200 6261
9270 6261
9348 6261
9388 6261
9460 6261
9530 6261
9600 6261
9708 6261
9776 6261
9856 6261
}\denseE
\begin{document}
\begin{tikzpicture}[x=1pt,y=1pt]
\useasboundingbox (-58.32pt,-41.76pt) rectangle (661.68pt,678.24pt);
\begin{axis}[
 scale only axis, width=650.88pt, height=653.04pt,
 xmin=-479, xmax=10347, ymin=6244.53, ymax=6298.47,
 xtick={0,2000,...,10000}, ytick={6250,6260,...,6290},
 scaled ticks=false,
 /pgf/number format/assume math mode=true,
 /pgf/number format/1000 sep={},
 tick label style={font=\fontsize{10}{12}\selectfont},
 label style={font=\fontsize{10}{12}\selectfont},
 title style={font=\fontsize{12}{14}\selectfont, yshift=-6.5pt},
 title={Run 521, channel009, Pedestal},
 xlabel={Sample \#}, ylabel={ADC Counts},
 grid=major, grid style={color=black!31, line width=0.6pt},
 axis line style={line width=0.65pt}, tick style={black, line width=0.65pt},
 tick align=outside, major tick length=3.5pt,
 xtick pos=bottom, ytick pos=left,
 legend style={at={(1,1)}, anchor=north east, xshift=-3.7pt, yshift=-4.3pt,
  draw=black!20, rounded corners=2pt, fill=white, fill opacity=0.8, text opacity=1,
  font=\fontsize{10}{12}\selectfont, inner sep=3.4pt, line width=0.8pt},
 legend cell align=left,
 legend image code/.code={\path[draw=none,fill=none] (0pt,0pt)--(25pt,0pt); \fill[black,draw=none] (11pt,0pt) circle (2pt);},
]
\addplot[only marks, mark=*, mark size=2.05pt, mark options={fill=black, draw=none}] table[x=x,y=y] {\sparsetop};
\addlegendentry{\shortstack[l]{Samples\\\textit{μ} = 6270.57, \textit{σ} = 6.05}}
\pgfplotsset{every axis plot/.append style={forget plot}}
\addplot[only marks, mark=*, mark size=2.05pt, mark options={fill=black, draw=none}] table[x=x,y=y] {\sparsebot};
\addplot[only marks, mark=*, mark size=2.05pt, mark options={fill=black, draw=none}] table[x=x,y=y] {\denseA};
\addplot[only marks, mark=*, mark size=2.05pt, mark options={fill=black, draw=none}] table[x=x,y=y] {\denseB};
\addplot[only marks, mark=*, mark size=2.05pt, mark options={fill=black, draw=none}] table[x=x,y=y] {\denseC};
\addplot[only marks, mark=*, mark size=2.05pt, mark options={fill=black, draw=none}] table[x=x,y=y] {\denseD};
\addplot[only marks, mark=*, mark size=2.05pt, mark options={fill=black, draw=none}] table[x=x,y=y] {\denseE};
\end{axis}
\end{tikzpicture}
\end{document}
